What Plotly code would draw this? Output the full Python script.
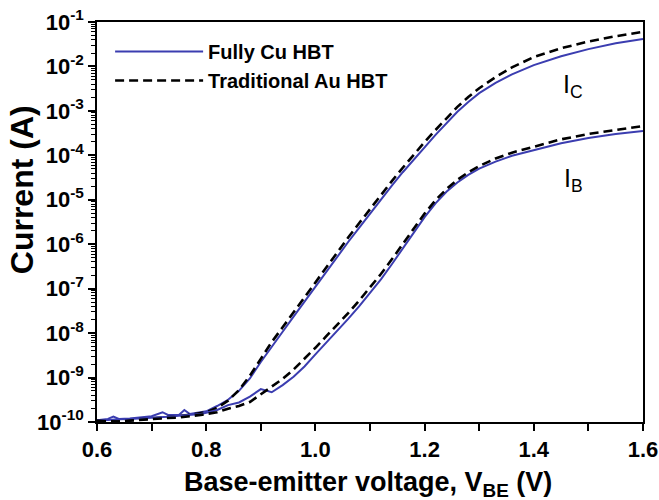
import plotly.graph_objects as go

# Base-emitter voltage (V)
vbe = [0.60, 0.62, 0.63, 0.64, 0.66, 0.68, 0.70, 0.72, 0.73, 0.75, 0.76, 0.77, 0.79, 0.80,
       0.82, 0.84, 0.86, 0.88, 0.90, 0.92, 0.94, 0.96, 0.98, 1.00, 1.02, 1.04, 1.06, 1.08,
       1.10, 1.12, 1.14, 1.16, 1.18, 1.20, 1.22, 1.24, 1.26, 1.28, 1.30, 1.33, 1.36, 1.40,
       1.45, 1.50, 1.55, 1.60]

# log10 of current (A)
ic_cu_log = [-9.96, -9.93, -9.88, -9.93, -9.92, -9.89, -9.87, -9.78, -9.84, -9.84, -9.73, -9.82, -9.79, -9.76,
             -9.64, -9.50, -9.30, -9.02, -8.65, -8.30, -7.97, -7.63, -7.29, -6.95, -6.61, -6.28, -5.95, -5.63,
             -5.31, -5.00, -4.68, -4.38, -4.09, -3.82, -3.54, -3.27, -3.02, -2.80, -2.60, -2.37, -2.18, -1.97,
             -1.77, -1.61, -1.48, -1.38]
ic_au_log = [-9.97, -9.97, -9.98, -9.98, -9.96, -9.93, -9.92, -9.90, -9.89, -9.87, -9.86, -9.84, -9.80, -9.78,
             -9.68, -9.52, -9.28, -8.96, -8.58, -8.20, -7.87, -7.53, -7.19, -6.85, -6.51, -6.18, -5.85, -5.53,
             -5.21, -4.89, -4.58, -4.28, -3.98, -3.70, -3.43, -3.16, -2.91, -2.69, -2.49, -2.24, -2.02, -1.79,
             -1.59, -1.44, -1.32, -1.22]
ib_cu_log = [-9.97, -9.95, -9.95, -9.94, -9.93, -9.92, -9.91, -9.89, -9.88, -9.86, -9.85, -9.84, -9.82, -9.79,
             -9.73, -9.62, -9.56, -9.43, -9.26, -9.33, -9.17, -8.98, -8.75, -8.48, -8.22, -7.95, -7.68, -7.40,
             -7.10, -6.79, -6.45, -6.09, -5.73, -5.39, -5.08, -4.82, -4.61, -4.44, -4.30, -4.14, -4.01, -3.88,
             -3.73, -3.61, -3.52, -3.45]
ib_au_log = [-9.98, -9.98, -9.99, -9.99, -9.97, -9.95, -9.94, -9.92, -9.91, -9.90, -9.89, -9.87, -9.84, -9.82,
             -9.78, -9.70, -9.64, -9.55, -9.38, -9.22, -9.03, -8.82, -8.58, -8.33, -8.07, -7.82, -7.55, -7.27,
             -6.98, -6.67, -6.34, -5.99, -5.64, -5.31, -5.01, -4.76, -4.55, -4.38, -4.24, -4.07, -3.94, -3.80,
             -3.64, -3.52, -3.43, -3.34]

ic_cu = [10 ** v for v in ic_cu_log]
ic_au = [10 ** v for v in ic_au_log]
ib_cu = [10 ** v for v in ib_cu_log]
ib_au = [10 ** v for v in ib_au_log]

y_tick_vals = [1e-10, 1e-9, 1e-8, 1e-7, 1e-6, 1e-5, 1e-4, 1e-3, 1e-2, 1e-1]
y_tick_text = ["10<sup>-10</sup>", "10<sup>-9</sup>", "10<sup>-8</sup>", "10<sup>-7</sup>", "10<sup>-6</sup>",
               "10<sup>-5</sup>", "10<sup>-4</sup>", "10<sup>-3</sup>", "10<sup>-2</sup>", "10<sup>-1</sup>"]
x_tick_vals = [0.6, 0.8, 1.0, 1.2, 1.4, 1.6]
x_tick_text = ["0.6", "0.8", "1.0", "1.2", "1.4", "1.6"]

BLUE = "#3b3db0"
DASH = "9px,5px"
FONT = "Liberation Sans, Arial, sans-serif"

fig = go.Figure()
fig.add_trace(go.Scatter(x=vbe, y=ic_cu, mode="lines", name="Fully Cu HBT",
                         line=dict(color=BLUE, width=2), legendgroup="cu"))
fig.add_trace(go.Scatter(x=vbe, y=ic_au, mode="lines", name="Traditional Au HBT",
                         line=dict(color="black", width=2.6, dash=DASH), legendgroup="au"))
fig.add_trace(go.Scatter(x=vbe, y=ib_cu, mode="lines", name="Fully Cu HBT", showlegend=False,
                         line=dict(color=BLUE, width=2), legendgroup="cu"))
fig.add_trace(go.Scatter(x=vbe, y=ib_au, mode="lines", name="Traditional Au HBT", showlegend=False,
                         line=dict(color="black", width=2.6, dash=DASH), legendgroup="au"))

fig.update_layout(
    width=659, height=500,
    margin=dict(l=97, r=16, t=22, b=78, autoexpand=False),
    paper_bgcolor="white", plot_bgcolor="white",
    font=dict(family=FONT, color="black"),
    showlegend=True,
    legend=dict(x=0.024, y=0.975, xanchor="left", yanchor="top", bgcolor="rgba(0,0,0,0)",
                font=dict(family=FONT, size=20, color="black", weight="bold"),
                itemwidth=88, tracegroupgap=0),
    annotations=[
        dict(x=1.472, y=-2.45, xref="x", yref="y", text="I<sub>C</sub>", showarrow=False,
             font=dict(family=FONT, size=25, color="black")),
        dict(x=1.472, y=-4.55, xref="x", yref="y", text="I<sub>B</sub>", showarrow=False,
             font=dict(family=FONT, size=25, color="black")),
        dict(x=-0.137, y=0.58, xref="paper", yref="paper", text="Current (A)", showarrow=False,
             textangle=-90, xanchor="center", yanchor="middle",
             font=dict(family=FONT, size=32, color="black", weight="bold")),
        dict(x=0.496, y=-0.155, xref="paper", yref="paper",
             text="Base-emitter voltage, V<sub>BE</sub> (V)", showarrow=False,
             xanchor="center", yanchor="middle",
             font=dict(family=FONT, size=27, color="black", weight="bold")),
    ],
)

fig.update_xaxes(
    range=[0.6, 1.6], tickvals=x_tick_vals, ticktext=x_tick_text, automargin=False,
    ticks="outside", ticklen=7, tickwidth=1.5, tickcolor="black",
    minor=dict(ticks="outside", dtick=0.1, ticklen=7, tickwidth=1.5, tickcolor="black", showgrid=False),
    showline=True, linecolor="black", linewidth=1.5, mirror=True,
    showgrid=False, zeroline=False,
    tickfont=dict(family=FONT, size=22, color="black", weight="bold"),
)
fig.update_yaxes(
    type="log", range=[-10, -1], tickvals=y_tick_vals, ticktext=y_tick_text, automargin=False,
    ticks="outside", ticklen=7, tickwidth=1.5, tickcolor="black",
    minor=dict(ticks="outside", ticklen=4, tickwidth=1, tickcolor="black", dtick="D1", showgrid=False),
    showline=True, linecolor="black", linewidth=1.5, mirror=True,
    showgrid=False, zeroline=False,
    tickfont=dict(family=FONT, size=22, color="black", weight="bold"),
)

fig.write_html("out.html", config={"displayModeBar": False},
               post_script="document.body.style.margin='0';document.body.style.overflow='hidden';")
